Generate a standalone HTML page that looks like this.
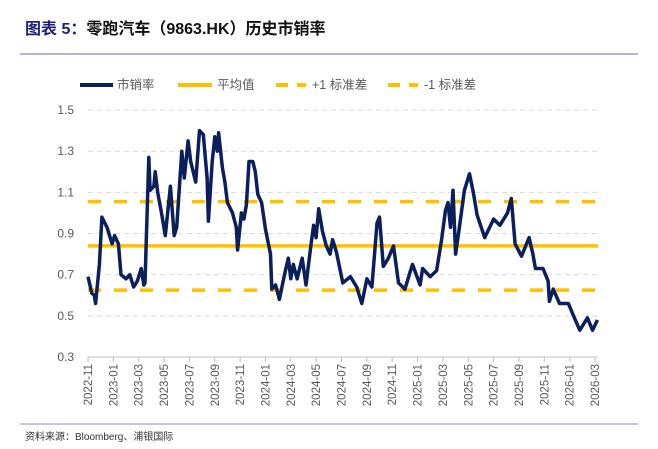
<!DOCTYPE html>
<html><head><meta charset="utf-8">
<style>
body{margin:0;background:#fff;width:658px;height:449px;overflow:hidden;font-family:"Liberation Sans","Noto Sans CJK SC",sans-serif;}
svg{display:block}
</style></head>
<body>
<svg width="658" height="449">
<text x="25" y="34" font-size="16" font-weight="bold" fill="#1f1f7a" font-family="Liberation Sans, Noto Sans CJK SC, sans-serif">图表 5：<tspan fill="#111">零跑汽车（9863.HK）历史市销率</tspan></text>
<line x1="20" y1="54" x2="638" y2="54" stroke="#8a86c4" stroke-width="1.2"/>
<g id="legend" font-size="12.5" fill="#595959">
<line x1="80" y1="85" x2="113" y2="85" stroke="#0a1f5c" stroke-width="4"/>
<text x="117" y="89" fill="#595959">市销率</text>
<line x1="178" y1="85" x2="212" y2="85" stroke="#ffc000" stroke-width="4"/>
<text x="217" y="89" fill="#595959">平均值</text>
<line x1="276" y1="85" x2="306" y2="85" stroke="#ffc000" stroke-width="4" stroke-dasharray="12,9"/>
<text x="312" y="89" fill="#595959">+1 标准差</text>
<line x1="388" y1="85" x2="418" y2="85" stroke="#ffc000" stroke-width="4" stroke-dasharray="12,9"/>
<text x="424" y="89" fill="#595959">-1 标准差</text>
</g>
<g id="plot"></g>
<line x1="20" y1="424" x2="638" y2="424" stroke="#8a86c4" stroke-width="1"/>
<text x="25" y="440" font-size="10" fill="#333">资料来源：Bloomberg、浦银国际</text>
</svg>
<script>
const yTicks=[0.3,0.5,0.7,0.9,1.1,1.3,1.5];
const xTickLabels=["2022-11","2023-01","2023-03","2023-05","2023-07","2023-09","2023-11","2024-01","2024-03","2024-05","2024-07","2024-09","2024-11","2025-01","2025-03","2025-05","2025-07","2025-09","2025-11","2026-01","2026-03"];
const meanValue=0.84;
const plusOneSd=1.055;
const minusOneSd=0.625;
const months=[0,0.3,0.5,0.6,0.9,1.1,1.5,1.9,2.1,2.4,2.6,3.0,3.3,3.6,3.9,4.2,4.4,4.5,4.6,4.8,4.9,5.2,5.3,5.5,5.8,6.1,6.5,6.8,7.0,7.4,7.6,7.9,8.1,8.5,8.8,9.1,9.4,9.5,9.8,10.0,10.2,10.3,10.6,10.8,11.0,11.4,11.7,11.8,12.1,12.3,12.5,12.7,13.0,13.2,13.4,13.7,14.0,14.4,14.5,14.8,15.1,15.5,15.8,16.0,16.2,16.5,16.9,17.2,17.6,17.8,18.0,18.2,18.5,18.8,19.1,19.3,19.6,20.1,20.7,21.2,21.6,22.0,22.4,22.8,23.0,23.3,23.7,24.1,24.5,25.0,25.4,25.6,26.2,26.4,27.0,27.5,27.9,28.2,28.4,28.6,28.8,29.0,29.3,29.7,30.1,30.4,30.7,31.3,32.0,32.5,33.1,33.4,33.7,34.2,34.8,35.1,35.3,35.9,36.3,36.4,36.7,37.2,37.9,38.3,38.8,39.4,39.8,40.2];
const psValues=[0.69,0.61,0.6,0.56,0.75,0.98,0.93,0.85,0.89,0.85,0.7,0.68,0.7,0.64,0.67,0.73,0.65,0.66,0.87,1.27,1.11,1.13,1.2,1.1,1.0,0.89,1.13,0.89,0.93,1.3,1.17,1.35,1.25,1.15,1.4,1.38,1.17,0.96,1.25,1.37,1.3,1.39,1.22,1.15,1.05,1.0,0.93,0.82,1.0,0.97,1.04,1.25,1.25,1.2,1.09,1.05,0.92,0.8,0.63,0.65,0.58,0.7,0.78,0.68,0.75,0.68,0.78,0.65,0.85,0.94,0.88,1.02,0.91,0.84,0.8,0.87,0.81,0.66,0.69,0.64,0.56,0.68,0.64,0.95,0.98,0.74,0.78,0.84,0.66,0.63,0.71,0.75,0.65,0.73,0.69,0.72,0.87,1.01,1.05,0.93,1.11,0.8,0.93,1.11,1.19,1.1,0.99,0.88,0.97,0.94,1.0,1.07,0.85,0.79,0.88,0.8,0.73,0.73,0.67,0.57,0.63,0.56,0.56,0.5,0.43,0.49,0.43,0.48];

const NS="http://www.w3.org/2000/svg";
const plot=document.getElementById('plot');
const X0=88, MW=12.675, Y0=357, YS=205.8, XR=598;
const xs=m=>X0+m*MW;
const ys=v=>Y0-(v-0.3)*YS;
function mk(tag,attrs){const e=document.createElementNS(NS,tag);for(const k in attrs)e.setAttribute(k,attrs[k]);plot.appendChild(e);return e;}
yTicks.forEach(t=>{
  if(t>0.3){const g=mk('line',{x1:X0,x2:XR,y1:ys(t),y2:ys(t),stroke:'#d9d9d9','stroke-dasharray':'5,4','stroke-width':1});
  
  }
  const l=mk('text',{x:74,y:ys(t)+4,'text-anchor':'end','font-size':12,fill:'#595959'});
  l.textContent=t.toFixed(1);
  
  
});
const ax=mk('line',{x1:X0,x2:XR,y1:Y0,y2:Y0,stroke:'#bfbfbf','stroke-width':1});


xTickLabels.forEach((lab,i)=>{
  const x=xs(i*2);
  const tk=mk('line',{x1:x,x2:x,y1:Y0,y2:Y0+5,stroke:'#bfbfbf'});
  
  
  const t=mk('text',{x:0,y:0,'text-anchor':'end','font-size':11.5,fill:'#595959',transform:`translate(${x+4},${Y0+7}) rotate(-90)`});
  t.textContent=lab;
  
  
});
const p1=mk('line',{x1:X0,x2:XR,y1:ys(plusOneSd),y2:ys(plusOneSd),stroke:'#ffc000','stroke-width':3.5,'stroke-dasharray':'13,13'});


const m1=mk('line',{x1:X0,x2:XR,y1:ys(minusOneSd),y2:ys(minusOneSd),stroke:'#ffc000','stroke-width':3.5,'stroke-dasharray':'13,13'});


const mn=mk('line',{x1:X0,x2:XR,y1:ys(meanValue),y2:ys(meanValue),stroke:'#ffc000','stroke-width':3.5});


const pts=months.map((m,i)=>xs(m).toFixed(1)+','+ys(psValues[i]).toFixed(1)).join(' ');
const pl=mk('polyline',{points:pts,fill:'none',stroke:'#0a1f5c','stroke-width':3.5,'stroke-linejoin':'round'});


</script>
</body></html>
